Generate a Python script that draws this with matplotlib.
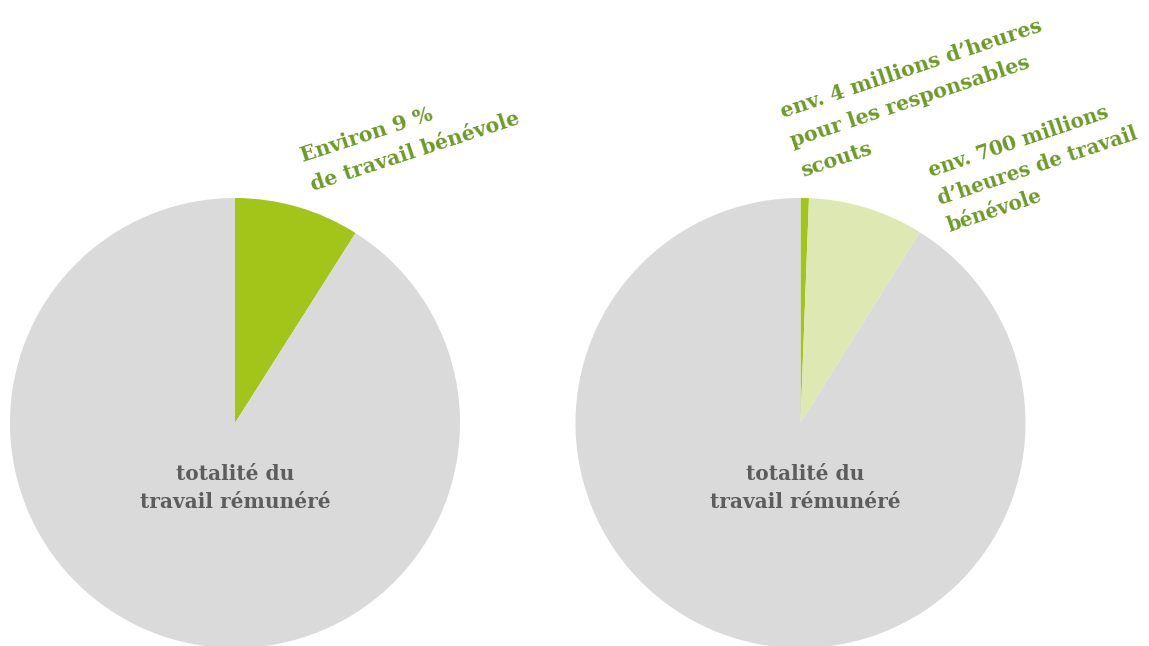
import numpy as np
import matplotlib.pyplot as plt

# left pie: share of volunteer work
left_values = [9, 91]
left_colors = ["#a3c51a", "#dadada"]
left_label = ["Environ 9 %", "de travail bénévole"]

# right pie: scouts leaders / other volunteer work / paid work
right_values = [0.6, 8.3, 91.1]
right_colors = ["#a3c51a", "#dde8b2", "#dadada"]
right_label_scouts = ["env. 4 millions d’heures", "pour les responsables", "scouts"]
right_label_volunteer = ["env. 700 millions", "d’heures de travail", "bénévole"]

center_label = "totalité du\ntravail rémunéré"

W, H = 1149, 646
fig = plt.figure(figsize=(W / 100, H / 100), dpi=100)
ax = fig.add_axes([0, 0, 1, 1])

font = dict(family="DejaVu Serif", fontweight="bold")
green_text = "#6b9b26"
gray_text = "#5d5d5d"

ax.pie(left_values, colors=left_colors, startangle=90, counterclock=False,
       center=(235, H - 423), radius=225, frame=True,
       wedgeprops=dict(linewidth=0))
ax.pie(right_values, colors=right_colors, startangle=90, counterclock=False,
       center=(800.5, H - 423), radius=225, frame=True,
       wedgeprops=dict(linewidth=0))
ax.set_xlim(0, W)
ax.set_ylim(0, H)
ax.set_aspect("equal")
ax.axis("off")

ax.text(235, H - 488, center_label, ha="center", va="center", fontsize=14.5,
        color=gray_text, linespacing=1.5, **font)
ax.text(805, H - 488, center_label, ha="center", va="center", fontsize=14.5,
        color=gray_text, linespacing=1.5, **font)


def rotated_lines(lines, x, y, angle, spacing=31, size=14.8):
    # x, y: baseline start of first line, in picture pixels from top-left
    a = np.radians(angle)
    for i, line in enumerate(lines):
        px = x + i * spacing * np.sin(a)
        py = y + i * spacing * np.cos(a)
        ax.text(px, H - py, line, ha="left", va="baseline", rotation=angle,
                rotation_mode="anchor", fontsize=size, color=green_text, **font)


rotated_lines(left_label, 303, 162, 18)
rotated_lines(right_label_scouts, 783, 118, 18.5)
rotated_lines(right_label_volunteer, 931, 177, 18.5, spacing=29, size=14.3)

fig.savefig("out.png", dpi=100)
